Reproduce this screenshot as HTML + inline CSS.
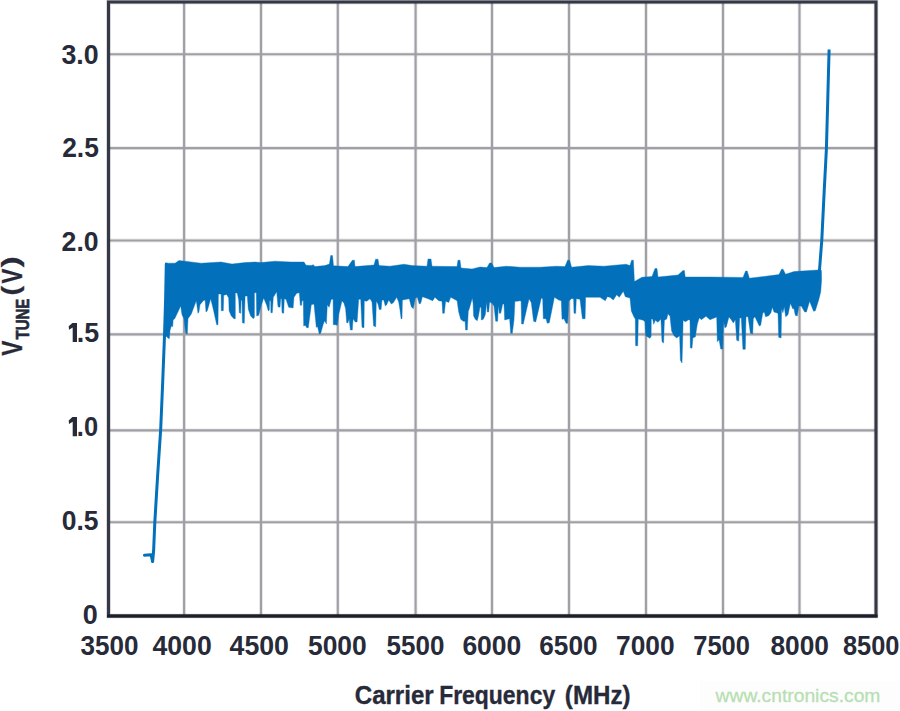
<!DOCTYPE html>
<html lang="en">
<head>
<meta charset="utf-8">
<title>VTUNE vs Carrier Frequency</title>
<style>
html,body{margin:0;padding:0;background:#ffffff;}
body{width:900px;height:711px;overflow:hidden;font-family:"Liberation Sans",sans-serif;}
svg{display:block;}
</style>
</head>
<body>
<svg width="900" height="711" viewBox="0 0 900 711">
<rect x="0" y="0" width="900" height="711" fill="#ffffff"/>
<rect x="700" y="681" width="200" height="30" fill="#fdfdfd"/>
<g stroke="#9fa0a6" stroke-width="3.8" stroke-opacity="0.22" fill="none"><line x1="184.1" y1="2.0" x2="184.1" y2="616.0"/><line x1="261.0" y1="2.0" x2="261.0" y2="616.0"/><line x1="337.8" y1="2.0" x2="337.8" y2="616.0"/><line x1="415.6" y1="2.0" x2="415.6" y2="616.0"/><line x1="492.0" y1="2.0" x2="492.0" y2="616.0"/><line x1="569.0" y1="2.0" x2="569.0" y2="616.0"/><line x1="646.0" y1="2.0" x2="646.0" y2="616.0"/><line x1="723.0" y1="2.0" x2="723.0" y2="616.0"/><line x1="799.5" y1="2.0" x2="799.5" y2="616.0"/><line x1="108.5" y1="54.3" x2="876.0" y2="54.3"/><line x1="108.5" y1="148.1" x2="876.0" y2="148.1"/><line x1="108.5" y1="240.5" x2="876.0" y2="240.5"/><line x1="108.5" y1="334.4" x2="876.0" y2="334.4"/><line x1="108.5" y1="430.4" x2="876.0" y2="430.4"/><line x1="108.5" y1="522.2" x2="876.0" y2="522.2"/></g>
<g stroke="#9fa0a6" stroke-width="2.1" fill="none"><line x1="184.1" y1="2.0" x2="184.1" y2="616.0"/><line x1="261.0" y1="2.0" x2="261.0" y2="616.0"/><line x1="337.8" y1="2.0" x2="337.8" y2="616.0"/><line x1="415.6" y1="2.0" x2="415.6" y2="616.0"/><line x1="492.0" y1="2.0" x2="492.0" y2="616.0"/><line x1="569.0" y1="2.0" x2="569.0" y2="616.0"/><line x1="646.0" y1="2.0" x2="646.0" y2="616.0"/><line x1="723.0" y1="2.0" x2="723.0" y2="616.0"/><line x1="799.5" y1="2.0" x2="799.5" y2="616.0"/><line x1="108.5" y1="54.3" x2="876.0" y2="54.3"/><line x1="108.5" y1="148.1" x2="876.0" y2="148.1"/><line x1="108.5" y1="240.5" x2="876.0" y2="240.5"/><line x1="108.5" y1="334.4" x2="876.0" y2="334.4"/><line x1="108.5" y1="430.4" x2="876.0" y2="430.4"/><line x1="108.5" y1="522.2" x2="876.0" y2="522.2"/></g>
<polygon points="165.2,336.6 165.6,300.6 166.0,264.6 167.0,263.2 175.0,263.2 179.0,260.6 185.0,261.2 201.0,263.2 221.0,262.0 232.0,264.0 245.0,262.6 255.0,262.0 261.0,262.6 275.0,261.2 291.0,262.0 304.0,262.0 306.0,265.2 312.0,265.6 313.0,264.6 315.0,266.6 325.0,265.6 329.4,264.1 330.7,255.6 332.5,255.6 333.5,265.8 348.0,266.6 352.4,260.2 354.4,260.2 355.0,266.6 374.0,265.0 375.6,259.2 378.0,259.2 379.0,265.6 390.0,266.2 404.0,264.2 412.0,265.6 427.0,266.2 428.0,259.0 431.0,259.0 432.0,266.2 457.0,266.6 458.0,260.2 460.0,260.2 461.0,268.0 472.0,269.0 480.0,267.0 487.0,267.6 489.6,263.0 491.6,263.0 494.0,267.6 506.0,266.2 520.0,267.2 540.0,267.2 556.0,266.2 565.0,266.6 567.6,260.2 569.6,260.2 571.6,267.2 588.0,265.6 604.0,266.2 626.0,264.2 630.0,265.6 631.6,260.2 633.4,260.2 634.4,281.6 642.0,277.2 652.0,276.6 655.0,268.6 657.0,268.6 658.0,277.0 678.0,275.0 683.0,270.6 684.4,270.6 685.2,277.0 710.0,277.0 743.0,277.4 745.6,271.0 747.2,271.0 749.4,278.2 766.0,276.2 779.0,274.6 781.6,269.2 783.0,269.2 785.6,274.2 794.0,271.6 818.0,270.0 819.6,268.6 821.4,270.6 821.6,280.0 820.7,292.0 818.7,300.0 815.3,310.7 813.6,311.3 809.6,301.3 806.4,312.0 804.7,312.0 801.3,306.0 798.9,306.0 797.3,316.0 795.3,315.3 794.0,308.7 792.7,308.7 790.4,303.3 788.0,314.7 785.6,316.7 784.3,306.7 782.9,312.7 781.6,308.7 781.1,338.0 778.7,337.3 778.0,313.3 774.0,312.0 772.3,307.3 770.9,312.7 768.7,315.7 765.6,316.7 764.3,312.0 762.7,313.3 760.7,325.3 759.3,326.0 754.9,316.7 753.3,318.7 752.7,334.0 750.4,333.3 748.0,316.7 746.0,316.7 745.3,349.3 742.9,349.3 741.3,318.0 741.3,317.7 739.6,318.3 738.7,341.0 736.7,340.3 735.3,319.7 733.3,323.0 731.3,319.7 728.9,317.0 726.3,327.0 724.9,327.7 723.6,321.0 722.7,349.0 720.7,349.0 719.1,339.7 717.3,341.7 716.7,317.0 710.0,319.7 706.0,316.3 701.3,319.7 699.3,317.7 697.3,324.3 695.3,337.0 692.9,337.7 692.0,348.3 690.3,347.7 690.0,320.3 688.7,319.7 685.3,321.7 683.1,320.3 682.8,335.0 682.0,363.0 680.4,360.3 679.6,335.7 676.7,337.9 674.0,335.7 671.6,331.0 670.0,316.3 668.0,313.7 666.7,319.0 664.4,320.3 663.6,343.0 662.0,341.7 660.9,319.0 658.0,322.3 655.3,320.3 653.7,324.3 652.7,319.0 651.3,319.0 651.1,336.3 650.0,338.3 645.7,335.7 644.9,321.7 643.3,320.3 638.3,319.0 637.7,345.7 635.6,345.7 635.3,319.0 634.0,317.0 631.3,311.0 630.0,298.0 625.3,296.7 623.3,291.3 619.3,297.3 616.7,294.7 613.3,300.0 610.0,297.3 607.3,296.7 605.3,300.7 600.0,297.3 585.6,297.3 585.1,318.7 582.4,318.7 580.0,299.3 576.3,298.7 575.7,313.3 574.0,313.3 573.6,298.7 571.3,298.7 568.7,301.3 567.7,323.3 566.0,323.3 564.0,318.7 562.0,319.3 561.3,300.7 558.7,300.0 554.4,297.3 552.0,309.3 549.3,322.7 547.3,323.3 546.0,318.7 543.3,318.7 542.7,298.7 541.3,298.0 538.7,309.3 535.7,322.0 533.6,321.3 531.3,302.7 529.1,298.7 526.0,312.0 523.3,324.0 521.6,324.0 521.1,301.3 520.0,300.7 517.3,301.3 514.9,301.3 514.0,320.0 512.3,333.3 510.7,333.3 509.6,318.7 507.3,319.3 504.7,320.0 504.0,304.0 502.7,304.0 500.7,313.3 499.3,313.3 498.4,305.3 497.6,321.3 495.7,321.3 494.0,306.0 492.0,303.3 489.6,302.0 488.7,312.0 487.3,312.0 486.7,302.0 485.3,314.7 483.3,319.3 481.3,320.0 481.1,307.3 480.0,307.3 478.7,314.7 477.3,320.7 475.3,319.3 473.6,316.0 473.1,303.3 472.3,298.0 469.3,308.7 468.3,311.3 467.3,330.0 465.6,330.0 465.1,321.3 463.3,321.3 460.7,319.3 458.7,312.0 457.1,300.7 450.7,297.3 448.7,302.4 445.6,301.3 444.3,313.3 442.7,313.3 442.0,301.3 438.7,300.7 434.9,297.3 432.7,300.7 428.0,298.7 422.4,296.7 420.7,303.3 419.3,304.0 417.3,297.3 415.3,298.0 413.3,308.7 411.3,306.7 409.3,298.7 402.4,300.0 402.0,318.7 401.1,318.7 400.0,310.0 398.7,302.0 396.7,297.3 393.3,302.7 391.3,304.0 388.7,300.0 386.7,304.7 385.3,306.0 383.7,300.0 382.0,300.0 381.1,309.6 379.3,309.6 378.0,304.0 376.3,301.3 375.7,326.7 373.6,326.0 372.0,302.0 370.0,298.7 366.7,301.3 364.3,300.7 364.0,327.7 362.0,327.3 360.7,299.3 358.7,299.3 357.1,322.0 355.3,322.0 353.1,318.7 352.3,330.0 350.4,330.0 349.1,318.7 348.0,322.7 346.7,322.7 345.6,308.7 344.0,303.3 342.0,300.7 338.7,314.7 337.3,325.3 335.3,324.7 333.3,324.7 333.1,299.3 331.3,299.3 329.1,307.3 327.3,304.7 326.4,324.0 324.7,320.7 323.3,324.0 320.7,333.3 319.3,334.0 317.6,326.7 316.3,327.3 314.0,304.0 311.3,304.7 308.3,327.7 306.7,327.7 305.3,325.3 303.7,326.0 303.3,300.7 302.0,300.7 301.6,305.3 300.3,305.3 299.3,292.7 296.7,293.3 294.0,297.3 293.1,308.0 288.7,307.3 286.0,299.3 284.3,298.7 283.7,313.3 282.0,312.7 281.6,298.7 280.7,298.7 280.0,307.3 278.0,306.7 276.7,291.7 273.3,297.3 272.3,312.7 270.9,312.7 270.7,300.7 269.6,300.7 269.3,310.0 268.3,310.9 266.7,305.3 263.7,298.0 261.3,305.3 258.7,315.3 256.7,316.0 256.3,292.7 254.4,292.7 254.4,317.3 253.3,318.7 250.7,316.0 248.3,309.3 247.3,296.0 245.1,296.0 244.3,323.3 242.4,322.7 242.0,300.7 241.1,300.0 240.7,313.3 239.3,312.7 238.7,300.0 237.3,293.3 235.3,292.7 235.3,318.7 234.0,318.7 231.3,316.0 229.1,310.7 228.7,298.0 226.7,294.4 223.7,295.3 223.3,310.7 221.3,310.7 221.1,294.0 218.4,294.0 218.0,324.7 216.7,324.7 213.3,309.3 210.7,298.7 207.3,310.7 206.0,312.0 205.1,300.0 203.3,300.7 200.0,304.7 198.9,312.0 198.0,313.3 196.3,300.7 194.0,306.7 191.3,314.0 188.0,318.7 187.3,334.0 185.6,333.3 184.0,318.7 182.0,314.7 180.7,306.0 177.3,313.3 174.7,318.7 173.1,320.0 172.7,326.7 171.3,326.0 170.0,330.7 169.3,338.7 168.0,338.0 166.0,336.0" fill="#0370bb" stroke="#0370bb" stroke-width="0.4" stroke-linejoin="round"/>
<polyline points="144.4,555.2 151.1,554.8 152.6,561.6 153.6,551.0 154.8,522.6 157.6,476.0 160.7,429.0 162.7,382.0 164.5,336.0 165.6,300.0 166.3,264.0" fill="none" stroke="#0370bb" stroke-width="3" stroke-linejoin="round" stroke-linecap="round"/>
<polyline points="818.8,290.0 819.5,270.0 821.8,240.0 824.0,195.0 826.4,149.0 827.8,98.0 829.1,49.5" fill="none" stroke="#0370bb" stroke-width="3" stroke-linejoin="round" stroke-linecap="butt"/>
<rect x="108.5" y="2.0" width="767.5" height="614.0" fill="none" stroke="#30333f" stroke-width="4.4" stroke-opacity="0.25"/>
<rect x="108.5" y="2.0" width="767.5" height="614.0" fill="none" stroke="#353845" stroke-width="3.0"/>
<line x1="107.0" y1="616.0" x2="877.5" y2="616.0" stroke="#1c1e2a" stroke-width="3.0"/>
<g font-family="'Liberation Sans', sans-serif" font-weight="bold" fill="#272a38"><text x="61.45" y="64.3" font-size="27.4" textLength="37.16" lengthAdjust="spacingAndGlyphs">3.0</text><text x="62.19" y="157.3" font-size="27.4" textLength="36.66" lengthAdjust="spacingAndGlyphs">2.5</text><text x="61.59" y="250.8" font-size="27.4" textLength="36.99" lengthAdjust="spacingAndGlyphs">2.0</text><text x="76.71" y="342.2" font-size="27.4" textLength="22.38" lengthAdjust="spacingAndGlyphs">.5</text><text x="76.86" y="436.3" font-size="27.4" textLength="21.22" lengthAdjust="spacingAndGlyphs">.0</text><text x="61.79" y="530.0" font-size="27.4" textLength="36.79" lengthAdjust="spacingAndGlyphs">0.5</text><text x="82.75" y="624.4" font-size="27.4" textLength="15.01" lengthAdjust="spacingAndGlyphs">0</text><text x="80.56" y="654.7" font-size="27.4" textLength="57.99" lengthAdjust="spacingAndGlyphs">3500</text><text x="152.47" y="654.7" font-size="27.4" textLength="59.23" lengthAdjust="spacingAndGlyphs">4000</text><text x="229.55" y="654.7" font-size="27.4" textLength="59.43" lengthAdjust="spacingAndGlyphs">4500</text><text x="307.98" y="654.7" font-size="27.4" textLength="58.75" lengthAdjust="spacingAndGlyphs">5000</text><text x="386.55" y="654.7" font-size="27.4" textLength="57.78" lengthAdjust="spacingAndGlyphs">5500</text><text x="462.38" y="654.7" font-size="27.4" textLength="58.98" lengthAdjust="spacingAndGlyphs">6000</text><text x="539.27" y="654.7" font-size="27.4" textLength="58.23" lengthAdjust="spacingAndGlyphs">6500</text><text x="616.04" y="654.7" font-size="27.4" textLength="58.54" lengthAdjust="spacingAndGlyphs">7000</text><text x="693.24" y="654.7" font-size="27.4" textLength="56.65" lengthAdjust="spacingAndGlyphs">7500</text><text x="770.40" y="654.7" font-size="27.4" textLength="58.50" lengthAdjust="spacingAndGlyphs">8000</text><text x="842.93" y="654.7" font-size="27.4" textLength="56.47" lengthAdjust="spacingAndGlyphs">8500</text><text x="354.77" y="703.9" font-size="26.2" textLength="78.89" lengthAdjust="spacingAndGlyphs" stroke="#272a38" stroke-width="0.35">Carrier</text><text x="439.13" y="703.9" font-size="26.2" textLength="116.04" lengthAdjust="spacingAndGlyphs" stroke="#272a38" stroke-width="0.35">Frequency</text><text x="564.86" y="703.9" font-size="26.2" textLength="65.72" lengthAdjust="spacingAndGlyphs" stroke="#272a38" stroke-width="0.35">(MHz)</text><polygon points="72.70,322.90 77.00,322.90 77.00,342.10 72.70,342.10 72.70,327.50 69.00,329.70 68.70,326.20 72.40,322.90"/><polygon points="72.70,417.10 77.00,417.10 77.00,436.30 72.70,436.30 72.70,421.70 69.00,423.90 68.70,420.40 72.40,417.10"/><g transform="translate(22.4,356.5) rotate(-90)" stroke="#272a38" stroke-width="0.3"><text x="0.8" y="0" font-size="29.0" textLength="15.1" lengthAdjust="spacingAndGlyphs">V</text><text x="17.0" y="6.6" font-size="18.9" textLength="40.8" lengthAdjust="spacingAndGlyphs" stroke-width="0.6">TUNE</text><text x="61.0" y="-3.3" font-size="24.2" textLength="9.6" lengthAdjust="spacingAndGlyphs">(</text><text x="73.1" y="0" font-size="29.0" textLength="14.8" lengthAdjust="spacingAndGlyphs">V</text><text x="89.2" y="-3.3" font-size="24.2" textLength="10.9" lengthAdjust="spacingAndGlyphs">)</text></g></g>
<text x="715.6" y="702.2" font-family="'Liberation Sans', sans-serif" font-size="19.2" fill="#b7dfb2" stroke="#b7dfb2" stroke-width="0.3" textLength="164.8" lengthAdjust="spacingAndGlyphs">www.cntronics.com</text>
</svg>
</body>
</html>
